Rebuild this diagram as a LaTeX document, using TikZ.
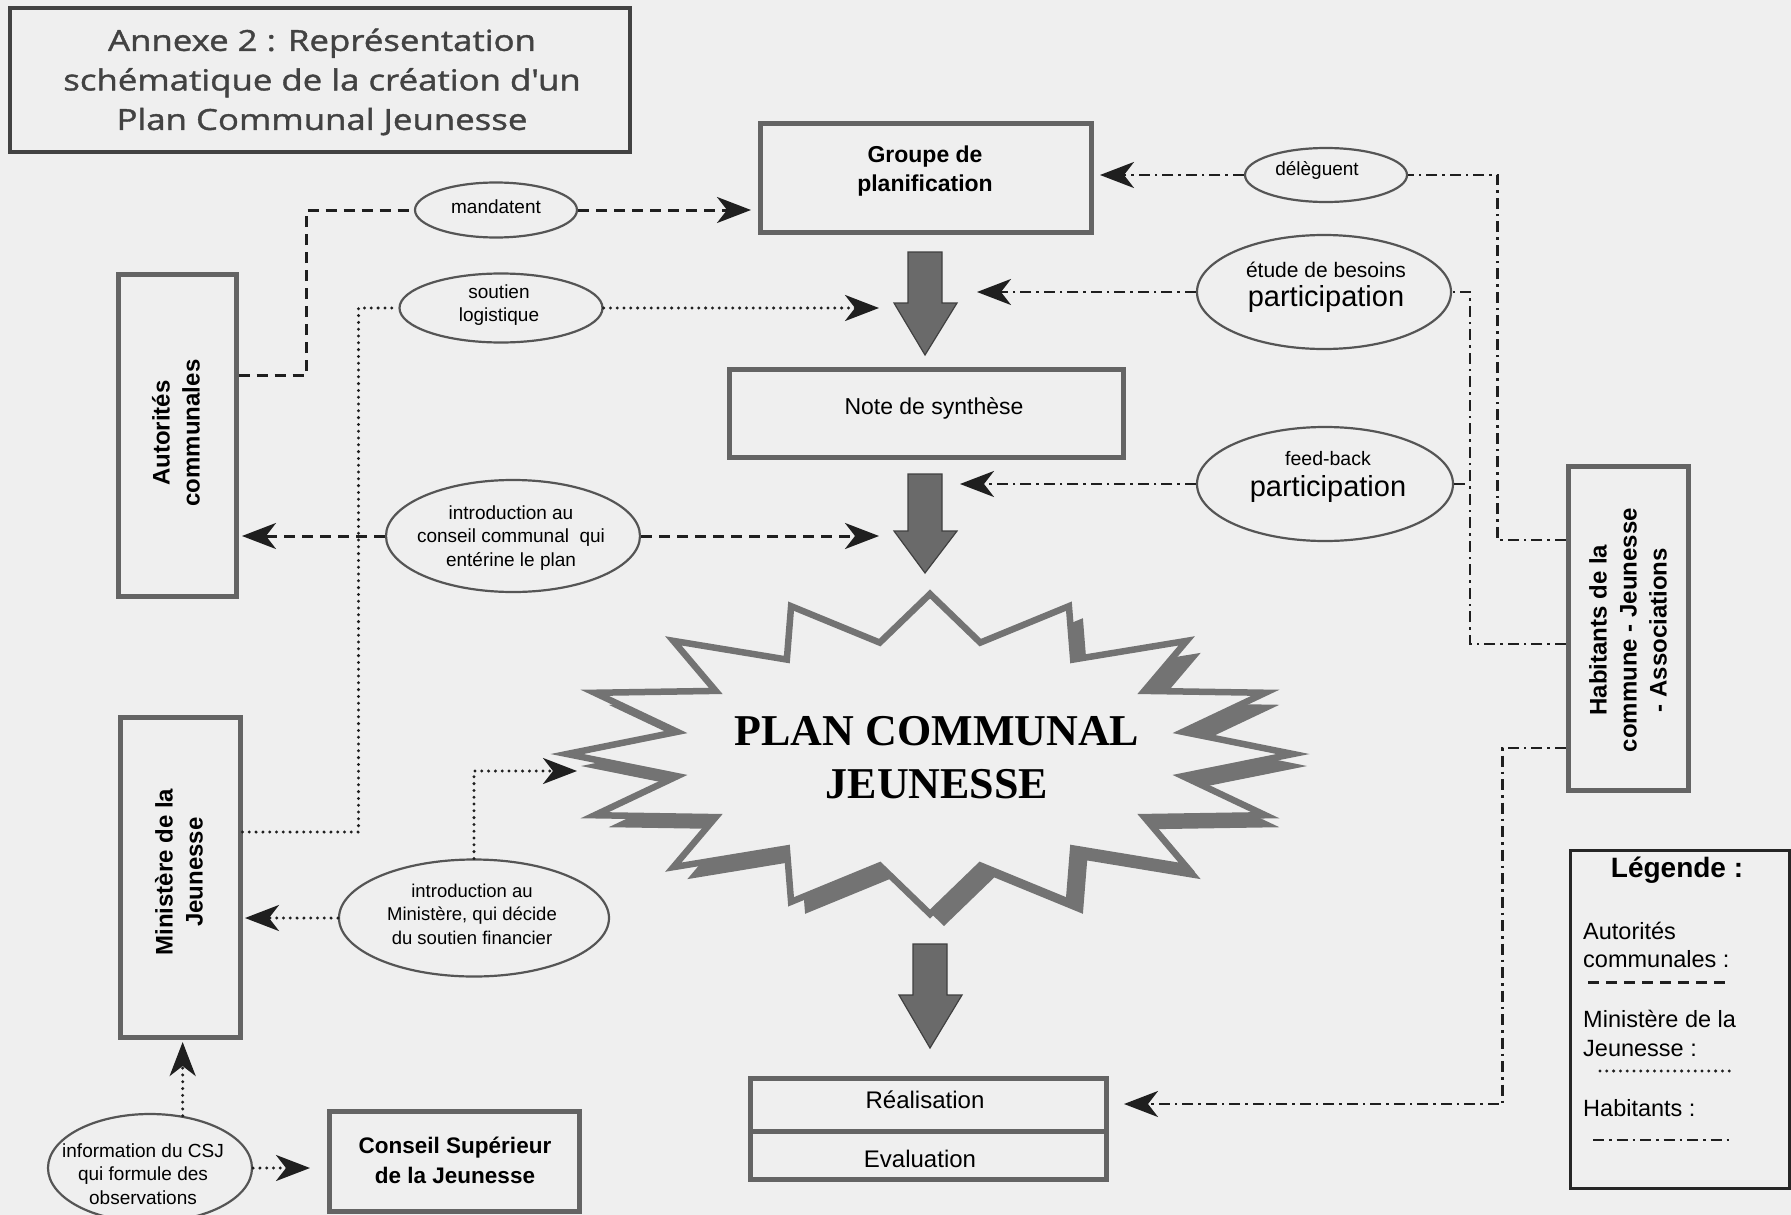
\documentclass[tikz,border=0pt]{standalone}
\usepackage{fontspec}
\setmainfont{Liberation Sans}
\newfontfamily\titlefont[FakeStretch=1.2,FakeBold=1.3]{Open Sans}
\newfontfamily\starfont{Liberation Serif}
\usetikzlibrary{shapes.geometric,arrows.meta}
\definecolor{bg}{HTML}{EFEFEF}
\definecolor{boxgray}{HTML}{646464}
\definecolor{ellgray}{HTML}{555555}
\definecolor{stargray}{HTML}{737373}
\definecolor{arrowgray}{HTML}{6A6A6A}
\definecolor{titlegray}{HTML}{424242}
\tikzset{
  box/.style={draw=boxgray, line width=5pt, inner sep=0pt},
  ell/.style={ellipse, draw=ellgray, line width=2.2pt, inner sep=0pt},
  tsmall/.style={align=center, inner sep=0pt, font=\fontsize{19}{23.5}\selectfont},
  tbox/.style={align=center, inner sep=0pt, font=\bfseries\fontsize{24}{30}\selectfont},
  tleg/.style={anchor=west, inner sep=0pt, font=\fontsize{23.5}{28}\selectfont},
  autl/.style={draw=black!88, line width=3pt, dash pattern=on 11pt off 7pt},
  minl/.style={draw=black!88, line width=3.3pt, line cap=round, dash pattern=on 0pt off 6.8pt},
  habl/.style={draw=black!88, line width=2.8pt, dash pattern=on 11pt off 5pt on 2.5pt off 5pt},
  arrowtip/.style={-{Stealth[length=34pt,width=26pt,inset=10pt]}},
  bigarr/.style={fill=arrowgray, draw=black!75, line width=1.2pt, line join=miter},
}
\begin{document}
\begin{tikzpicture}[x=1pt,y=-1pt]
\useasboundingbox (0,0) rectangle (1791,1215);
\fill[bg] (0,0) rectangle (1791,1215);

% ---------- title ----------
\node[box, draw=titlegray, line width=4.5pt, minimum width=620, minimum height=144] (title) at (320,80) {};
\node[align=center, inner sep=0pt, text=titlegray, font=\titlefont\fontsize{29}{39.5}\selectfont] (titleT) at (322,82)
  {Annexe 2 : Représentation\\schématique de la création d'un\\Plan Communal Jeunesse};

% ---------- star ----------
\begin{scope}[shift={(14,12)}]
\fill[stargray] (930,594) \foreach \i in {1,...,31}{ -- ({930+363*(1-0.29*mod(\i,2))*cos(90-11.25*\i)},{754-160*(1-0.29*mod(\i,2))*sin(90-11.25*\i)}) } -- cycle;
\end{scope}
\filldraw[fill=bg, draw=stargray, line width=6.5pt, line join=miter] (930,594) \foreach \i in {1,...,31}{ -- ({930+363*(1-0.29*mod(\i,2))*cos(90-11.25*\i)},{754-160*(1-0.29*mod(\i,2))*sin(90-11.25*\i)}) } -- cycle;
\node[align=center, inner sep=0pt, font=\starfont\bfseries\fontsize{44}{53}\selectfont] (plan) at (937,758) {PLAN COMMUNAL\\JEUNESSE};

% ---------- central boxes ----------
\node[box, minimum width=331, minimum height=109] (groupe) at (925.5,177.5) {};
\node[align=center, inner sep=0pt, font=\bfseries\fontsize{23}{29}\selectfont] (groupeT) at (925,171) {Groupe de\\planification};
\node[box, minimum width=394, minimum height=88] (note) at (926,413) {};
\node[inner sep=0pt, font=\fontsize{23}{28}\selectfont] (noteT) at (934,408) {Note de synthèse};
\node[box, minimum width=356, minimum height=53] (real) at (928,1104.5) {};
\node[box, minimum width=356, minimum height=48] (eval) at (928,1155) {};
\node[inner sep=0pt, font=\fontsize{24}{28}\selectfont] (realT) at (925,1100) {Réalisation};
\node[inner sep=0pt, font=\fontsize{24}{28}\selectfont] (evalT) at (920,1159) {Evaluation};

% big arrows
\draw[bigarr] (908,252) -- (942,252) -- (942,303) -- (957,303) -- (925,355) -- (894,303) -- (908,303) -- cycle;
\draw[bigarr] (908,474) -- (942,474) -- (942,531) -- (957,531) -- (925,573) -- (894,531) -- (908,531) -- cycle;
\draw[bigarr] (913,944) -- (947,944) -- (947,995) -- (962,995) -- (930,1048) -- (899,995) -- (913,995) -- cycle;

% ---------- side boxes ----------
\node[box, minimum width=118, minimum height=322] (aut) at (177,435) {};
\node[tbox, rotate=90] (autT) at (176,433) {Autorités\\communales};
\node[box, minimum width=120, minimum height=320] (minb) at (180,877) {};
\node[tbox, rotate=90] (minT) at (179,872) {Ministère de la\\Jeunesse};
\node[box, minimum width=250, minimum height=100] (csj) at (454,1161) {};
\node[align=center, inner sep=0pt, font=\bfseries\fontsize{22.5}{30}\selectfont] (csjT) at (455,1160) {Conseil Supérieur\\de la Jeunesse};
\node[box, minimum width=120, minimum height=324] (hab) at (1628,628) {};
\node[tbox, rotate=90] (habT) at (1628,630) {Habitants de la\\commune - Jeunesse\\- Associations};

% ---------- legend ----------
\node[draw=black!85, line width=3pt, minimum width=219, minimum height=338, inner sep=0pt] (leg) at (1679.5,1019) {};
\node[inner sep=0pt, font=\bfseries\fontsize{28}{32}\selectfont] (legT) at (1677,870) {Légende :};
\node[tleg] (lg1) at (1583,931) {Autorités};
\node[tleg] (lg2) at (1583,959) {communales :};
\node[tleg] (lg3) at (1583,1019) {Ministère de la};
\node[tleg] (lg4) at (1583,1049) {Jeunesse :};
\node[tleg] (lg5) at (1583,1108) {Habitants :};
\coordinate (la1) at (1588,982); \coordinate (lb1) at (1730,982);
\coordinate (la2) at (1600,1071); \coordinate (lb2) at (1730,1071);
\coordinate (la3) at (1593,1140); \coordinate (lb3) at (1730,1140);
\draw[autl] (la1) -- (lb1);
\draw[minl] (la2) -- (lb2);
\draw[habl] (la3) -- (lb3);

% ---------- ellipses ----------
\node[ell, minimum width=162, minimum height=55] (mand) at (496,210) {};
\node[tsmall] (mandT) at (496,207) {mandatent};
\node[ell, minimum width=203, minimum height=69] (sout) at (501,308) {};
\node[tsmall] (soutT) at (499,305) {soutien\\logistique};
\node[ell, minimum width=254, minimum height=112] (cons) at (513,536) {};
\node[tsmall] (consT) at (511,538) {introduction au\\conseil communal~ qui\\entérine le plan};
\node[ell, minimum width=270, minimum height=117] (minell) at (474,918) {};
\node[tsmall, font=\fontsize{18.5}{23.5}\selectfont] (minellT) at (472,914) {introduction au\\Ministère, qui décide\\du soutien financier};
\node[ell, minimum width=204, minimum height=108] (csjell) at (150,1168) {};
\node[tsmall] (csjellT) at (143,1174) {information du CSJ\\qui formule des\\observations};
\node[ell, minimum width=162, minimum height=54] (deleg) at (1326,175) {};
\node[tsmall] (delegT) at (1317,170) {délèguent};
\node[ell, minimum width=254, minimum height=114] (etude) at (1324,292) {};
\node[tsmall, font=\fontsize{21}{24}\selectfont] (etudeT1) at (1326,270) {étude de besoins};
\node[inner sep=0pt, font=\fontsize{29}{32}\selectfont] (etudeT2) at (1326,299) {participation};
\node[ell, minimum width=256, minimum height=114] (feed) at (1325,484) {};
\node[tsmall, font=\fontsize{19.5}{24}\selectfont] (feedT1) at (1328,459) {feed-back};
\node[inner sep=0pt, font=\fontsize{29}{32}\selectfont] (feedT2) at (1328,489) {participation};

% ---------- coordinates ----------
\coordinate (y375) at (0,375);
\coordinate (y832) at (0,832);
\coordinate (y540) at (0,540);
\coordinate (y644) at (0,644);
\coordinate (y748) at (0,748);
\coordinate (hv2) at (1470,644);
\coordinate (mandTip) at (751,210);
\coordinate (soutTip) at (879,308);
\coordinate (consTipL) at (242,536);
\coordinate (consTipR) at (879,536);
\coordinate (minTipStar) at (577,771);
\coordinate (minTipL) at (245,918);
\coordinate (csjTipUp) at (182,1042);
\coordinate (csjTipR) at (310,1168);
\coordinate (delegTip) at (1100,175);
\coordinate (etudeTip) at (977,292);
\coordinate (feedTip) at (960,484);
\coordinate (realTip) at (1124,1104);

% ---------- connectors: Autorites (dashed) ----------
\draw[autl] (aut.east |- y375) -- ++(68,0) |- (mand.west);
\draw[autl,arrowtip] (mand.east) -- (mandTip);
\draw[autl,arrowtip] (cons.west) -- (consTipL);
\draw[autl,arrowtip] (cons.east) -- (consTipR);

% ---------- connectors: Ministere (dotted) ----------
\draw[minl] (minb.east |- y832) -- ++(116,0) |- (sout.west);
\draw[minl,arrowtip] (sout.east) -- (soutTip);
\draw[minl,arrowtip] (minell.north) |- (minTipStar);
\draw[minl,arrowtip] (minell.west) -- (minTipL);
\draw[minl,arrowtip] (csjell.58) -- (csjell.58 |- csjTipUp);
\draw[minl,arrowtip] (csjell.east) -- (csjTipR);

% ---------- connectors: Habitants (dash-dot) ----------
\draw[habl] (hab.west |- y540) -- ++(-68,0) |- (deleg.east);
\draw[habl,arrowtip] (deleg.west) -- (delegTip);
\draw[habl] (hab.west |- y644) -- (hv2) |- (etude.east);
\draw[habl] (feed.east) -- (feed.east -| hv2);
\draw[habl,arrowtip] (etude.west) -- (etudeTip);
\draw[habl,arrowtip] (feed.west) -- (feedTip);
\draw[habl,arrowtip] (hab.west |- y748) -- ++(-63,0) |- (realTip);
\end{tikzpicture}
\end{document}
